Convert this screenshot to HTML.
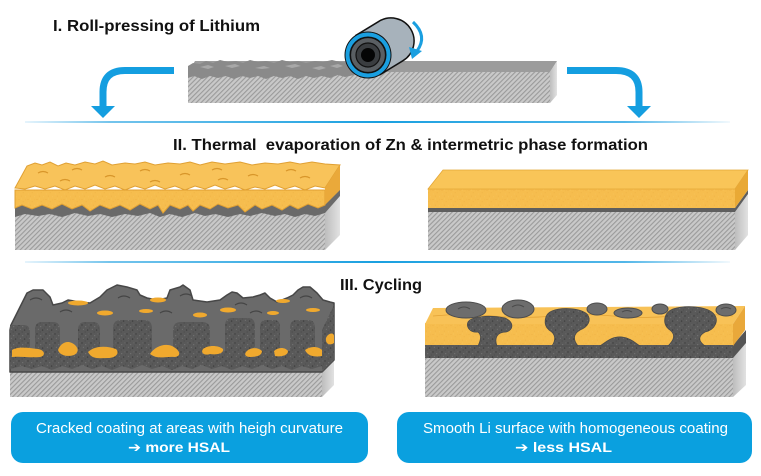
<!DOCTYPE html>
<html><head><meta charset="utf-8"><style>
html,body{margin:0;padding:0;background:#fff;}
svg{display:block;}
</style></head><body>
<svg width="761" height="476" viewBox="0 0 761 476" xmlns="http://www.w3.org/2000/svg">
<defs>
<pattern id="hatch" width="3.4" height="3.4" patternUnits="userSpaceOnUse" patternTransform="rotate(45)">
<rect width="3.4" height="3.4" fill="#c9c9c9"/>
<rect width="1.1" height="3.4" fill="#9a9a9a"/>
</pattern>
<pattern id="yel" width="9" height="9" patternUnits="userSpaceOnUse">
<rect width="9" height="9" fill="#f6bd4e"/>
<circle cx="1" cy="1.5" r="0.5" fill="#eeb145"/>
<circle cx="5.2" cy="3.7" r="0.5" fill="#efb245"/>
<circle cx="3.3" cy="7.1" r="0.5" fill="#eeb145"/>
<circle cx="7.6" cy="7.9" r="0.4" fill="#f9c965"/>
<circle cx="3.5" cy="1" r="0.4" fill="#f9c965"/>
<circle cx="7.8" cy="1.9" r="0.4" fill="#efb245"/>
<circle cx="1.2" cy="5" r="0.4" fill="#f9c965"/>
</pattern>
<pattern id="por" width="9" height="9" patternUnits="userSpaceOnUse">
<rect width="9" height="9" fill="#595959"/>
<circle cx="1" cy="1" r="0.7" fill="#3c3c3c"/>
<circle cx="4.7" cy="2.6" r="0.6" fill="#727272"/>
<circle cx="2.4" cy="5.3" r="0.6" fill="#727272"/>
<circle cx="6.6" cy="6.1" r="0.7" fill="#3c3c3c"/>
<circle cx="7.8" cy="0.9" r="0.5" fill="#6c6c6c"/>
<circle cx="4.1" cy="8" r="0.5" fill="#404040"/>
<circle cx="8.3" cy="4" r="0.4" fill="#424242"/>
</pattern>
<linearGradient id="side" x1="0" y1="0" x2="1" y2="0">
<stop offset="0" stop-color="#bdbdbd"/><stop offset="1" stop-color="#e2e2e2"/>
</linearGradient>
<linearGradient id="div" x1="0" y1="0" x2="1" y2="0">
<stop offset="0" stop-color="#e6f4fc"/><stop offset="0.12" stop-color="#74c4ec"/>
<stop offset="0.5" stop-color="#1aa0e0"/><stop offset="0.85" stop-color="#52b6e8"/>
<stop offset="1" stop-color="#f2f9fd"/>
</linearGradient>
</defs>

<!-- ============ SECTION I ============ -->
<text x="53" y="31" font-family="Liberation Sans, Arial, sans-serif" font-weight="bold" font-size="15.5" fill="#111" textLength="207" lengthAdjust="spacingAndGlyphs">I. Roll-pressing of Lithium</text>

<polygon points="195,61 557,61 550,72 188,72" fill="#9c9c9c"/>
<rect x="188" y="72" width="362" height="31" fill="url(#hatch)"/>
<polygon points="550,72 557,61 557,95 550,103" fill="url(#side)"/>
<path d="M188,66 L193,63 200,64 206,61 213,63 220,60 228,62 236,61 243,63 250,60 258,62 266,61 274,63 282,60 290,62 298,61 306,63 315,61 323,62 332,60 340,62 352,63 L354,75 345,77 338,75 330,78 322,76 314,78 306,76 298,79 290,76 282,78 274,76 266,79 258,76 250,78 242,76 234,79 226,76 218,78 210,76 202,79 194,76 188,78 Z" fill="#8a8a8a"/>
<path d="M200,67 l8,-2 6,2 -6,2z M225,66 l10,-2 5,2 -8,2z M255,68 l9,-2 6,2 -8,1z M285,66 l10,-2 6,2 -9,2z M312,68 l9,-2 5,2 -7,2z M330,66 l8,-2 5,2 -6,2z" fill="#a8a8a8"/>

<!-- roller -->
<path d="M356,35.3 L379,21.3 A23,23 0 0 1 403,60.7 L380,74.7 Z" fill="#a7b2bb" stroke="#111" stroke-width="1.5"/>
<circle cx="368" cy="55" r="23.5" fill="#111"/>
<circle cx="368" cy="55" r="20.5" fill="none" stroke="#1a9fe0" stroke-width="4"/>
<circle cx="368" cy="55" r="17.5" fill="#5a5f63" stroke="#111" stroke-width="1.2"/>
<circle cx="368" cy="55" r="12" fill="#3a3d40" stroke="#111" stroke-width="1.2"/>
<circle cx="368" cy="55" r="7" fill="#050505"/>
<path d="M413,22 Q428,36 417,51" fill="none" stroke="#1a9fe0" stroke-width="3"/>
<polygon points="409,47 422,51 412,59" fill="#1a9fe0"/>

<!-- big arrows -->
<path d="M174,70.5 H125 Q103,70.5 103,92 V107" fill="none" stroke="#149ee0" stroke-width="7"/>
<polygon points="91,106 115,106 103,118" fill="#149ee0"/>
<path d="M567,70.5 H616 Q639,70.5 639,92 V107" fill="none" stroke="#149ee0" stroke-width="7"/>
<polygon points="627,106 651,106 639,118" fill="#149ee0"/>

<rect x="25" y="121" width="705" height="2" fill="url(#div)"/>

<!-- ============ SECTION II ============ -->
<text x="173" y="150" font-family="Liberation Sans, Arial, sans-serif" font-weight="bold" font-size="15.5" fill="#111" textLength="475" lengthAdjust="spacingAndGlyphs" style="white-space:pre">II. Thermal  evaporation of Zn &amp; intermetric phase formation</text>

<rect x="15" y="212" width="310" height="38" fill="url(#hatch)"/>
<polygon points="325,212 340,196 340,235 325,250" fill="url(#side)"/>
<path d="M15,200 L325,200 L340,185 L340,196 L325,213 L315,216 305,214 295,217 285,214 275,216 262,213 250,216 240,214 228,217 215,214 205,216 195,213 182,217 170,214 160,217 150,213 138,216 125,214 112,217 100,214 88,216 75,213 62,217 50,214 38,216 25,214 15,217 Z" fill="#6a6a6a"/>
<path d="M15,190 L325,190 L325,205 L318,208 308,204 298,209 290,205 282,210 272,205 262,209 255,205 245,212 238,205 228,208 218,204 210,209 200,205 193,211 188,205 180,209 170,205 163,213 158,205 150,209 140,204 130,210 120,205 110,209 100,205 90,211 82,205 72,209 62,204 52,209 42,205 32,209 22,205 15,208 Z" fill="url(#yel)" stroke="#e0a033" stroke-width="1"/>
<path d="M15,188 L27,166 35,163 42,165 50,162 58,166 66,163 75,165 85,162 95,164 103,161 112,165 125,163 135,164 145,162 155,165 168,163 180,164 190,162 200,165 212,162 225,164 240,162 252,165 265,163 278,164 290,162 300,164 312,162 325,164 340,165 L325,188 315,186 305,190 295,186 285,189 275,185 265,189 255,187 245,190 235,186 225,189 215,185 205,189 195,186 185,190 175,186 165,189 155,185 145,189 135,186 125,190 115,186 105,189 95,185 85,189 75,186 65,190 55,186 45,189 35,186 25,189 Z" fill="#f8c35a" stroke="#e0a033" stroke-width="1"/>
<polygon points="325,188 340,165 340,190 325,205" fill="#eaa93a"/>
<g fill="none" stroke="#d8962a" stroke-width="1.2">
<path d="M38,173 q5,-3 10,0"/><path d="M72,170 q5,-3 10,0"/><path d="M105,177 q5,-3 10,0"/>
<path d="M140,171 q5,-3 10,0"/><path d="M180,175 q5,-3 10,0"/><path d="M212,170 q5,-3 10,0"/>
<path d="M248,176 q5,-3 10,0"/><path d="M286,171 q5,-3 10,0"/><path d="M300,178 q5,-3 10,0"/>
<path d="M218,180 q5,-3 10,0"/><path d="M60,181 q5,-3 10,0"/><path d="M150,182 q5,-3 10,0"/>
</g>

<rect x="428" y="212" width="307" height="38" fill="url(#hatch)"/>
<polygon points="735,212 748,194 748,235 735,250" fill="url(#side)"/>
<polygon points="428,208 735,208 748,190 748,194 735,212 428,212" fill="#5e5e5e"/>
<rect x="428" y="189" width="307" height="19" fill="url(#yel)"/>
<polygon points="428,189 443,170 748,170 735,189" fill="#f9c558" stroke="#e3a636" stroke-width="0.8"/>
<polygon points="735,189 748,170 748,190 735,208" fill="#e9a935"/>

<rect x="25" y="261" width="705" height="2" fill="url(#div)"/>

<!-- ============ SECTION III ============ -->
<text x="340" y="290" font-family="Liberation Sans, Arial, sans-serif" font-weight="bold" font-size="15.5" fill="#111" textLength="82" lengthAdjust="spacingAndGlyphs">III. Cycling</text>

<rect x="10" y="362" width="312" height="35" fill="url(#hatch)"/>
<polygon points="322,362 334,350 334,385 322,397" fill="url(#side)"/>
<path d="M10,330 L11,325 L27,293 L33,290 L43,290 L50,297 L53,305 L62,303 L68,300 L80,302 L90,303 L100,297 L107,290 L117,285 L127,287 L137,290 L140,295 L147,298 L157,300 L167,298 L170,290 L180,287 L183,285 L190,290 L193,300 L207,302 L220,300 L227,295 L232,292 L237,293 L243,298 L253,297 L260,295 L265,293 L270,298 L277,302 L287,298 L293,295 L298,290 L303,287 L310,287 L317,293 L323,300 L330,302 L334,303 L334,360 L322,372 L10,372 Z" fill="#6a6a6a" stroke="#474747" stroke-width="1.5" stroke-linejoin="round"/>
<polygon points="322,330 334,305 334,360 322,372" fill="url(#por)"/>
<g fill="url(#por)">
<path d="M10,360 L10,325 L24,325 Q30,325 30,333 L30,360 Z"/>
<path d="M35,360 L35,330 Q35,322 42,322 L53,322 Q60,322 60,330 L60,360 Z"/>
<path d="M78,360 L78,330 Q78,322 85,322 L93,322 Q100,322 100,330 L100,360 Z"/>
<path d="M113,360 L113,328 Q113,320 121,320 L144,320 Q152,320 152,328 L152,360 Z"/>
<path d="M173,360 L173,330 Q173,322 181,322 L202,322 Q210,322 210,330 L210,360 Z"/>
<path d="M225,360 L225,326 Q225,318 232,318 L248,318 Q255,318 255,326 L255,360 Z"/>
<path d="M260,360 L260,327 Q260,320 266,320 L274,320 Q280,320 280,327 L280,360 Z"/>
<path d="M290,360 L290,328 Q290,320 297,320 L308,320 Q315,320 315,328 L315,360 Z"/>
<path d="M10,351 L322,351 L322,366 L312,369 302,366 292,370 282,366 272,369 262,365 252,369 242,366 232,370 222,366 212,369 202,365 192,369 182,366 172,370 162,366 152,369 142,365 132,369 122,366 112,370 102,366 92,369 82,365 72,369 62,366 52,370 42,366 32,369 22,366 10,369 Z"/>
</g>
<g fill="none" stroke="#454545" stroke-width="1.2">
<path d="M30,300 q6,-4 12,0"/><path d="M60,312 q6,-4 12,0"/><path d="M118,298 q6,-4 12,0"/>
<path d="M180,296 q6,-4 12,0"/><path d="M235,305 q6,-4 12,0"/><path d="M300,298 q6,-4 12,0"/>
<path d="M160,313 q6,-4 12,0"/><path d="M250,313 q6,-4 12,0"/>
</g>
<g fill="#f0a92e">
<path d="M12,350 C18,346 30,348 38,349 C45,350 46,356 40,357 C30,358 20,356 12,357 Z"/>
<path d="M58,350 C60,344 66,340 72,343 C78,346 80,352 74,355 C68,357 60,356 58,350 Z"/>
<path d="M88,352 C95,345 108,346 116,349 C120,353 116,358 108,358 C100,358 92,360 88,352 Z"/>
<path d="M150,354 C155,346 165,343 172,346 C180,350 182,356 175,357 C165,356 158,360 150,354 Z"/>
<path d="M203,349 C208,345 218,345 223,349 C224,354 216,355 210,354 C205,356 200,353 203,349 Z"/>
<path d="M246,352 C250,347 258,347 262,351 C262,356 255,357 250,357 C246,357 244,355 246,352 Z"/>
<path d="M274,351 C278,347 285,347 288,351 C288,356 280,357 275,356 Z"/>
<path d="M305,350 C310,346 318,346 322,350 L322,356 C316,357 308,357 305,350 Z"/>
<path d="M326,338 C328,333 334,332 334,336 L334,343 C330,346 325,344 326,338 Z"/>
<ellipse cx="78" cy="303" rx="10" ry="2.5"/><ellipse cx="105" cy="313" rx="8" ry="2.5"/>
<ellipse cx="146" cy="311" rx="7" ry="2"/><ellipse cx="158" cy="300" rx="8" ry="2.5"/>
<ellipse cx="200" cy="315" rx="7" ry="2.5"/><ellipse cx="228" cy="310" rx="8" ry="2.5"/>
<ellipse cx="283" cy="301" rx="7" ry="2"/><ellipse cx="273" cy="313" rx="6" ry="2"/>
<ellipse cx="313" cy="310" rx="7" ry="2"/>
</g>

<rect x="425" y="357" width="308" height="40" fill="url(#hatch)"/>
<polygon points="733,357 746,343 746,385 733,397" fill="url(#side)"/>
<path d="M425,344 L445,345 465,343 490,345 520,343 560,345 600,344 640,345 680,343 733,344 L733,358 L425,358 Z" fill="url(#por)"/>
<polygon points="733,345 746,330 746,343 733,358" fill="#555"/>
<rect x="425" y="323" width="308" height="22" fill="url(#yel)"/>
<polygon points="425,324 433,308 745,306 733,324" fill="#f8c257"/>
<polygon points="733,324 745,306 745,330 733,346" fill="#e9a83a"/>
<path d="M433,316 q30,-3 60,0 t60,0 t60,0 t60,0 t60,0" fill="none" stroke="#e3a336" stroke-width="0.8"/>
<g fill="url(#por)" stroke="#4a4a4a" stroke-width="0.8">
<path d="M478,346 C481,340 482,335 478,332 C470,333 466,327 468,322 C472,316 490,315 505,318 C514,322 514,330 506,332 C497,332 494,338 497,346 Z"/>
<path d="M552,346 C556,340 556,334 549,330 C543,325 544,314 552,311 C562,307 580,308 587,314 C592,320 588,327 580,330 C573,334 573,340 578,346 Z"/>
<path d="M600,346 C606,342 612,336 622,337 C630,338 634,342 640,346 Z"/>
<path d="M668,346 C674,340 676,335 670,330 C662,325 663,313 673,309 C685,305 705,306 713,313 C720,320 715,330 705,332 C698,336 698,341 705,346 Z"/>
</g>
<g fill="#6d6d6d" stroke="#4d4d4d" stroke-width="1">
<ellipse cx="466" cy="310" rx="20" ry="8"/>
<ellipse cx="518" cy="309" rx="16" ry="9"/>
<ellipse cx="597" cy="309" rx="10" ry="6"/>
<ellipse cx="628" cy="313" rx="14" ry="5"/>
<ellipse cx="660" cy="309" rx="8" ry="5"/>
<ellipse cx="726" cy="310" rx="10" ry="6"/>
</g>
<g fill="none" stroke="#4a4a4a" stroke-width="1">
<path d="M458,309 q6,-4 12,0"/><path d="M512,307 q6,-4 12,0"/><path d="M622,312 q5,-3 10,0"/><path d="M721,309 q5,-3 10,0"/>
</g>

<!-- ============ BOXES ============ -->
<rect x="11" y="412" width="357" height="51" rx="12" ry="12" fill="#0aa0df"/>
<rect x="397" y="412" width="355" height="51" rx="12" ry="12" fill="#0aa0df"/>
<g font-family="Liberation Sans, Arial, 'DejaVu Sans', sans-serif" fill="#fff">
<text x="36" y="433" font-size="15" textLength="307" lengthAdjust="spacingAndGlyphs">Cracked coating at areas with heigh curvature</text>
<text x="128" y="452" font-size="14" font-weight="bold" textLength="102" lengthAdjust="spacingAndGlyphs">➔ more HSAL</text>
<text x="423" y="433" font-size="15" textLength="305" lengthAdjust="spacingAndGlyphs">Smooth Li surface with homogeneous coating</text>
<text x="515" y="452" font-size="14" font-weight="bold" textLength="97" lengthAdjust="spacingAndGlyphs">➔ less HSAL</text>
</g>
</svg>
</body></html>
